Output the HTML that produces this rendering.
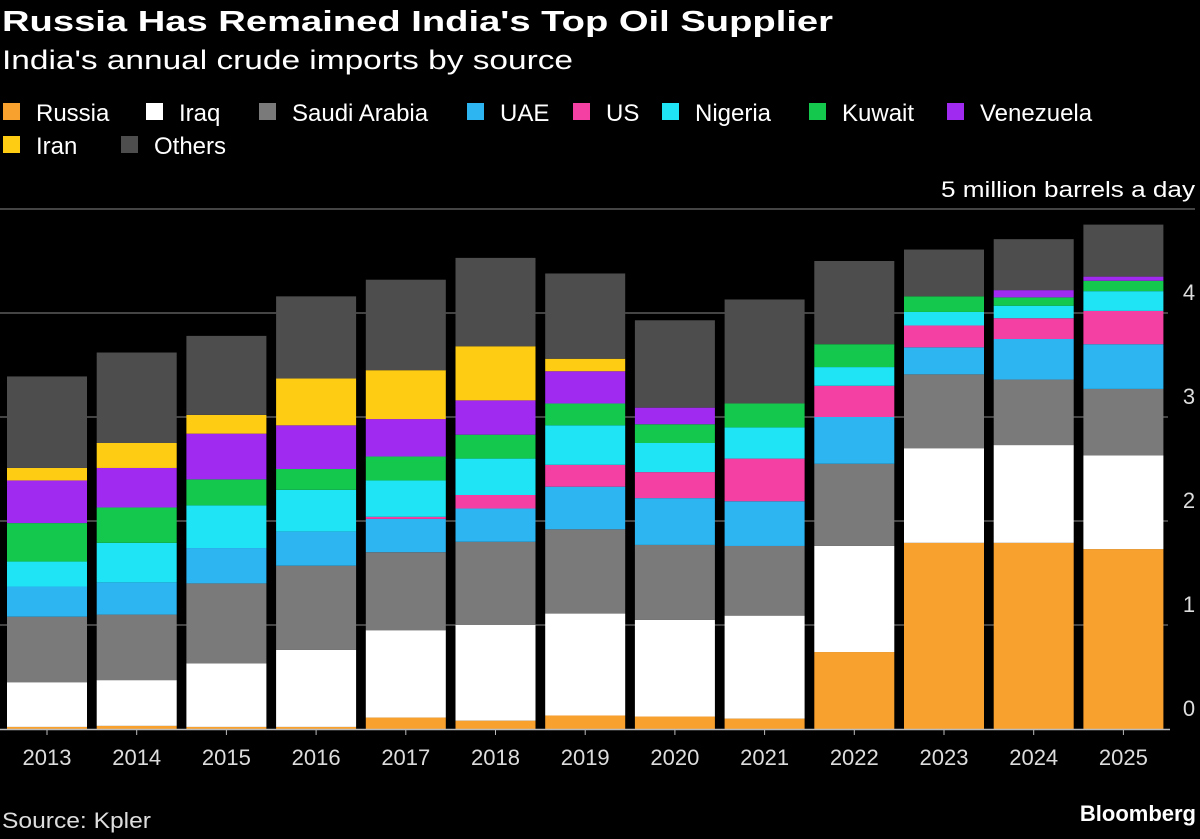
<!DOCTYPE html>
<html><head><meta charset="utf-8"><style>
body{margin:0;background:#000;width:1200px;height:834px;overflow:hidden;font-family:"Liberation Sans",sans-serif;color:#fff}
</style></head><body>
<svg width="1200" height="834">
<text x="2" y="31" font-size="29" font-weight="bold" fill="#fff" textLength="831" lengthAdjust="spacingAndGlyphs">Russia Has Remained India's Top Oil Supplier</text>
<text x="2" y="69" font-size="27" fill="#fff" textLength="571" lengthAdjust="spacingAndGlyphs">India's annual crude imports by source</text>
<g id="legend"></g>
<g id="grid"></g>
<g id="bars"></g>
<g id="xaxis"></g>
<text x="2" y="828" font-size="22" fill="#ddd" textLength="149" lengthAdjust="spacingAndGlyphs">Source: Kpler</text>
<text x="1196" y="821" font-size="22" font-weight="bold" fill="#fff" text-anchor="end">Bloomberg</text>
</svg>
<script>
const years=["2013","2014","2015","2016","2017","2018","2019","2020","2021","2022","2023","2024","2025"];
const seriesNames=["Russia","Iraq","Saudi Arabia","UAE","US","Nigeria","Kuwait","Venezuela","Iran","Others"];
const russia=[0.02,0.03,0.02,0.02,0.11,0.08,0.13,0.12,0.10,0.74,1.79,1.79,1.73];
const iraq=[0.43,0.44,0.61,0.74,0.84,0.92,0.98,0.93,0.99,1.02,0.91,0.94,0.90];
const saudi=[0.63,0.63,0.77,0.81,0.75,0.80,0.81,0.72,0.67,0.79,0.71,0.63,0.64];
const uae=[0.29,0.31,0.34,0.33,0.32,0.32,0.41,0.45,0.43,0.45,0.26,0.39,0.43];
const us=[0,0,0,0,0.02,0.13,0.21,0.25,0.41,0.30,0.21,0.20,0.32];
const nigeria=[0.24,0.38,0.41,0.40,0.35,0.35,0.38,0.28,0.30,0.18,0.13,0.12,0.19];
const kuwait=[0.37,0.34,0.25,0.20,0.23,0.23,0.21,0.18,0.23,0.22,0.15,0.08,0.10];
const venezuela=[0.41,0.38,0.44,0.42,0.36,0.33,0.31,0.16,0,0,0,0.07,0.04];
const iran=[0.12,0.24,0.18,0.45,0.47,0.52,0.12,0,0,0,0,0,0];
const others=[0.88,0.87,0.76,0.79,0.87,0.85,0.82,0.84,1.00,0.80,0.45,0.49,0.50];
const yTicks=[0,1,2,3,4,5];
const colors=["#f9a12e","#ffffff","#7a7a7a","#2db5f2","#f43fa3","#1fe4f5","#13c84c","#a12af0","#ffcc14","#4d4d4d"];
const series=[russia,iraq,saudi,uae,us,nigeria,kuwait,venezuela,iran,others];
const NS="http://www.w3.org/2000/svg";
function mk(tag,attrs,parent){const e=document.createElementNS(NS,tag);for(const k in attrs)e.setAttribute(k,attrs[k]);parent.appendChild(e);return e;}
const y0=729,unit=104;
function yS(v){return y0-v*unit;}
function xS(i){return 47+i*89.7;}
const bw=80;
const lg=document.getElementById('legend');
const legendPos=[[3,112],[146,112],[259,112],[467,112],[573,112],[662,112],[809,112],[947,112],[3,145],[121,145]];
seriesNames.forEach((n,i)=>{
 const g=mk('g',{},lg);
 
 
 const [lx,ly]=legendPos[i];
 mk('rect',{x:lx,y:ly-9,width:17,height:17,fill:colors[i]},g);
 const t=mk('text',{x:lx+33,y:ly+9,'font-size':24,fill:'#fff'},g);t.textContent=n;
});
const gr=document.getElementById('grid');
yTicks.forEach(v=>{
 const y=yS(v);
 if(v>0){const l=mk('line',{x1:0,x2:v===5?1195:1168,y1:y,y2:y,stroke:'#5a5a5a','stroke-width':1.5},gr);
 }
 if(v<5){const t=mk('text',{x:1189,y:y-13,'font-size':22,fill:'#ddd','text-anchor':'middle'},gr);t.textContent=v;
 }
});
const ut=mk('text',{x:1195,y:197,'font-size':22,fill:'#fff','text-anchor':'end',textLength:254,lengthAdjust:'spacingAndGlyphs'},gr);ut.textContent='5 million barrels a day';

const bg=document.getElementById('bars');
years.forEach((yr,i)=>{
 let cum=0;
 series.forEach((s,j)=>{
  const v=s[i];if(v<=0)return;
  const r=mk('rect',{x:xS(i)-bw/2,y:yS(cum+v),width:bw,height:v*unit,fill:colors[j]},bg);
  
  
  cum+=v;
 });
});
const xa=document.getElementById('xaxis');
const zl=mk('line',{x1:0,x2:1170,y1:y0+0.5,y2:y0+0.5,stroke:'#bbb','stroke-width':1.5},xa);

years.forEach((yr,i)=>{
 const tk=mk('line',{x1:xS(i),x2:xS(i),y1:y0,y2:y0+6,stroke:'#bbb'},xa);
 
 const t=mk('text',{x:xS(i),y:765,'font-size':22,fill:'#ddd','text-anchor':'middle'},xa);t.textContent=yr;
 
});
</script>
</body></html>
